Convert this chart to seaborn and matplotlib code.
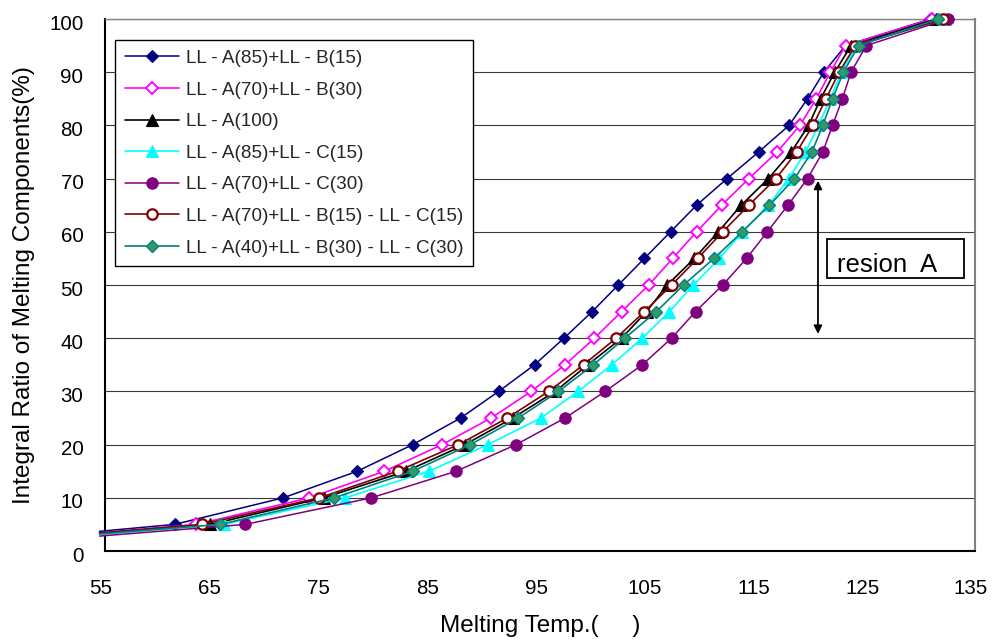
import matplotlib
matplotlib.use("Agg")
import matplotlib.pyplot as plt
import matplotlib.patches as mpatches
from matplotlib.transforms import ScaledTranslation
import seaborn as sns
import pandas as pd

# ---------------- data ----------------
ratio_levels = [5, 10, 15, 20, 25, 30, 35, 40, 45, 50, 55, 60, 65, 70, 75, 80, 85, 90, 95, 100]
edge_temp = 54.5

series_names = [
    "LL - A(85)+LL - B(15)",
    "LL - A(70)+LL - B(30)",
    "LL - A(100)",
    "LL - A(85)+LL - C(15)",
    "LL - A(70)+LL - C(30)",
    "LL - A(70)+LL - B(15) - LL - C(15)",
    "LL - A(40)+LL - B(30) - LL - C(30)",
]

t_a85_b15 = [61.4, 71.4, 78.2, 83.3, 87.7, 91.2, 94.5, 97.2, 99.8, 102.2, 104.6, 107.0, 109.4, 112.2, 115.1, 117.9, 119.6, 121.1, 123.1, 130.9]
t_a70_b30 = [63.4, 73.8, 80.7, 86.0, 90.5, 94.2, 97.3, 100.0, 102.5, 105.0, 107.2, 109.4, 111.7, 114.2, 116.8, 118.9, 120.4, 121.7, 123.1, 131.0]
t_a100 = [64.7, 75.1, 82.7, 88.1, 92.5, 96.4, 99.4, 102.5, 104.8, 106.7, 109.2, 111.4, 113.5, 116.0, 118.1, 119.7, 120.8, 122.1, 123.6, 131.4]
t_a85_c15 = [65.9, 77.1, 84.8, 90.2, 95.1, 98.5, 101.6, 104.4, 106.9, 109.1, 111.5, 113.6, 116.0, 117.9, 119.4, 120.6, 121.7, 122.7, 124.1, 132.2]
t_a70_c30 = [67.9, 79.5, 87.3, 92.8, 97.3, 101.0, 104.4, 107.1, 109.3, 111.8, 114.0, 115.9, 117.8, 119.6, 121.0, 121.9, 122.8, 123.6, 125.0, 132.5]
t_a70_b15_c15 = [63.9, 74.7, 81.9, 87.5, 92.0, 95.8, 99.0, 102.0, 104.6, 107.1, 109.5, 111.8, 114.2, 116.7, 118.6, 120.1, 121.3, 122.5, 124.0, 132.1]
t_a40_b30_c30 = [65.6, 76.1, 83.3, 88.6, 93.0, 96.7, 99.9, 102.8, 105.7, 108.2, 111.0, 113.6, 116.1, 118.4, 120.0, 121.0, 121.9, 122.9, 124.3, 131.6]

edge_ratio = [3.7, 3.4, 3.3, 3.1, 2.8, 3.4, 3.2]

series_temps = [t_a85_b15, t_a70_b30, t_a100, t_a85_c15, t_a70_c30, t_a70_b15_c15, t_a40_b30_c30]

x_ticks = [55, 65, 75, 85, 95, 105, 115, 125, 135]
y_ticks = [0, 10, 20, 30, 40, 50, 60, 70, 80, 90, 100]

# ---------------- styles ----------------
styles = [
    dict(color="#000080", marker="D", markersize=6.3, markerfacecolor="#000080", markeredgecolor="#000080", markeredgewidth=0.8, linewidth=1.1),
    dict(color="#FF00FF", marker="D", markersize=5.8, markerfacecolor="white", markeredgecolor="#FF00FF", markeredgewidth=1.4, linewidth=1.2),
    dict(color="#000000", marker="^", markersize=8.4, markerfacecolor="#000000", markeredgecolor="#000000", markeredgewidth=0.8, linewidth=1.2),
    dict(color="#00FFFF", marker="^", markersize=8.4, markerfacecolor="#00FFFF", markeredgecolor="#00FFFF", markeredgewidth=0.8, linewidth=1.2),
    dict(color="#800080", marker="o", markersize=8.2, markerfacecolor="#800080", markeredgecolor="#800080", markeredgewidth=0.8, linewidth=1.1),
    dict(color="#800000", marker="o", markersize=7.5, markerfacecolor="white", markeredgecolor="#800000", markeredgewidth=1.6, linewidth=1.2),
    dict(color="#008080", marker="D", markersize=6.0, markerfacecolor="#339966", markeredgecolor="#008080", markeredgewidth=1.0, linewidth=1.2),
]

sns.set_style("white")
plt.rcParams["font.family"] = ["Liberation Sans", "DejaVu Sans"]

fig = plt.figure(figsize=(9.92, 6.43), dpi=100)
ax = fig.add_axes([105 / 992, 1 - 551 / 643, 870 / 992, 532 / 643])

for name, temps, e_ratio, st in zip(series_names, series_temps, edge_ratio, styles):
    df = pd.DataFrame({"temp": [edge_temp] + temps, "ratio": [e_ratio] + ratio_levels})
    sns.lineplot(data=df, x="temp", y="ratio", ax=ax, label=name, estimator=None, sort=False,
                 markevery=list(range(1, len(df))), clip_on=False, zorder=3, **st)

ax.set_xlim(55, 135)
ax.set_ylim(0, 100)
ax.set_xticks(x_ticks)
ax.set_yticks(y_ticks)
ax.set_xticklabels([str(v) for v in x_ticks])
ax.set_yticklabels([str(v) for v in y_ticks])

ax.yaxis.grid(True, color="#3a3a3a", linewidth=0.8)
ax.xaxis.grid(False)
ax.set_axisbelow(True)

for side in ["left", "bottom"]:
    ax.spines[side].set_color("black")
    ax.spines[side].set_linewidth(1.5)
ax.spines["top"].set_color("#808080")
ax.spines["top"].set_linewidth(1.0)
ax.spines["right"].set_color("#808080")
ax.spines["right"].set_linewidth(1.5)

ax.tick_params(axis="both", direction="in", length=4.5, width=1.0, color="black",
               labelsize=14.8, labelcolor="black", top=False, right=False)
ax.tick_params(axis="x", pad=20)
ax.tick_params(axis="y", pad=15.5)

for lab in ax.get_xticklabels():
    lab.set_transform(lab.get_transform() + ScaledTranslation(-4 / 100, 0, fig.dpi_scale_trans))
for lab in ax.get_yticklabels():
    lab.set_transform(lab.get_transform() + ScaledTranslation(0, -3 / 100, fig.dpi_scale_trans))

ax.set_xlabel("Melting Temp.(     )", fontsize=17.5, color="black")
ax.set_ylabel("Integral Ratio of Melting Components(%)", fontsize=17.5, color="black")
ax.xaxis.set_label_coords(0.5, -0.12)
ax.yaxis.set_label_coords(-0.08, 0.5)

leg = ax.legend(loc="upper left", bbox_to_anchor=(115 / 992, 1 - 40 / 643), bbox_transform=fig.transFigure,
                fontsize=13.6, frameon=True, fancybox=False, shadow=False, borderaxespad=0,
                handlelength=2.85, handletextpad=0.38, labelspacing=0.76, borderpad=0.52)
leg.get_frame().set_edgecolor("black")
leg.get_frame().set_linewidth(1.0)
leg.get_frame().set_facecolor("white")
leg.get_frame().set_alpha(1.0)
leg.set_zorder(10)

# annotation: double arrow + boxed label
ax.annotate("", xy=(120.56, 40.8), xytext=(120.56, 69.6),
            arrowprops=dict(arrowstyle="<|-|>", color="black", lw=1.3, mutation_scale=12, shrinkA=0, shrinkB=0),
            zorder=6)
rect = mpatches.Rectangle((121.42, 51.37), 134.02 - 121.42, 58.65 - 51.37, transform=ax.transData,
                          facecolor="white", edgecolor="black", linewidth=1.3, zorder=7, clip_on=False)
ax.add_patch(rect)
ax.text(122.3, 52.5, "resion  A", fontsize=18.5, ha="left", va="baseline", color="black", zorder=8)

fig.savefig("out.png", dpi=100, facecolor="white")
